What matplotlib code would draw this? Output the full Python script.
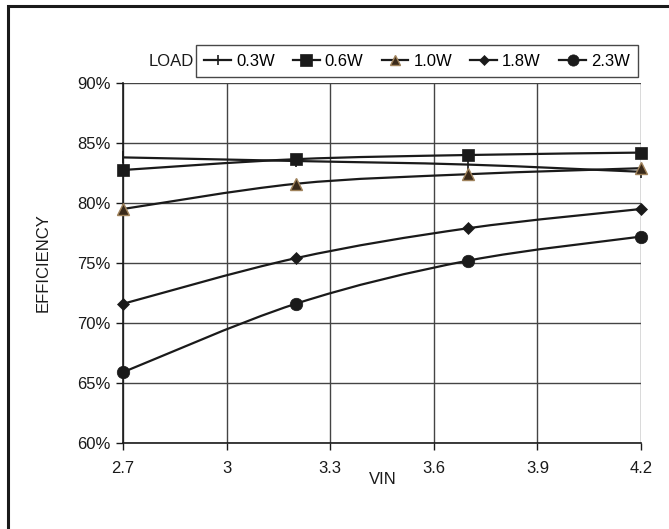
import matplotlib
matplotlib.use("Agg")
import matplotlib.pyplot as plt
import matplotlib.patches as patches
from matplotlib.path import Path
from matplotlib.lines import Line2D
import matplotlib.ticker as plticker

plt.rcParams['font.family'] = ['Liberation Sans', 'DejaVu Sans']

# data
vin = [2.7, 3.2, 3.7, 4.2]
load_labels = ['0.3W', '0.6W', '1.0W', '1.8W', '2.3W']
eff_03 = [83.8, 83.5, 83.2, 82.6]
eff_06 = [82.75, 83.65, 84.0, 84.2]
eff_10 = [79.5, 81.6, 82.4, 82.9]
eff_18 = [71.6, 75.4, 77.9, 79.5]
eff_23 = [65.9, 71.6, 75.2, 77.2]
x_ticks = [2.7, 3.0, 3.3, 3.6, 3.9, 4.2]
x_tick_labels = ['2.7', '3', '3.3', '3.6', '3.9', '4.2']
y_ticks = [60, 65, 70, 75, 80, 85, 90]

series = [eff_03, eff_06, eff_10, eff_18, eff_23]
styles = [
    dict(marker='|', ms=8, mfc='#1a1a1a', mec='#1a1a1a', mew=1.2),
    dict(marker='s', ms=9, mfc='#1a1a1a', mec='#1a1a1a', mew=0.5),
    dict(marker='^', ms=8, mfc='#3a2a1a', mec='#a0835c', mew=1.0),
    dict(marker='D', ms=6, mfc='#1a1a1a', mec='#1a1a1a', mew=0.5),
    dict(marker='o', ms=9, mfc='#1a1a1a', mec='#1a1a1a', mew=0.5),
]


def smooth_path(xs, ys):
    # excel-like smoothed line: catmull-rom turned into cubic bezier segments
    pts = list(zip(xs, ys))
    verts = [pts[0]]
    codes = [Path.MOVETO]
    n = len(pts)
    for i in range(n - 1):
        p0 = pts[i - 1] if i > 0 else pts[i]
        p1 = pts[i]
        p2 = pts[i + 1]
        p3 = pts[i + 2] if i + 2 < n else pts[i + 1]
        c1 = (p1[0] + (p2[0] - p0[0]) / 6, p1[1] + (p2[1] - p0[1]) / 6)
        c2 = (p2[0] - (p3[0] - p1[0]) / 6, p2[1] - (p3[1] - p1[1]) / 6)
        verts += [c1, c2, p2]
        codes += [Path.CURVE4] * 3
    return Path(verts, codes)


fig = plt.figure(figsize=(6.69, 5.29), dpi=100)
ax = fig.add_axes([123 / 669, 1 - 443 / 529, (641 - 123) / 669, (443 - 83) / 529])

# outer frame, only left and top edges show
fig.patches.append(patches.Rectangle((8 / 669, -0.01), 1.2, 1 - 6 / 529 + 0.01,
                                     transform=fig.transFigure, fill=False,
                                     ec='#1a1a1a', lw=2.2))

for ys, st in zip(series, styles):
    ax.add_patch(patches.PathPatch(smooth_path(vin, ys), fill=False,
                                   ec='#1a1a1a', lw=1.6, zorder=3))
    ax.plot(vin, ys, linestyle='none', zorder=4, clip_on=False, **st)

ax.set_xlim(2.7, 4.2)
ax.set_ylim(60, 90)
ax.set_xticks(x_ticks)
ax.set_xticklabels(x_tick_labels)
ax.set_yticks(y_ticks)
ax.yaxis.set_major_formatter(plticker.FuncFormatter(lambda v, p: '%d%%' % v))
ax.grid(True, color='#444444', lw=1.0)
ax.set_axisbelow(True)
for s in ['top', 'right']:
    ax.spines[s].set_visible(False)
for s in ['left', 'bottom']:
    ax.spines[s].set_color('#1a1a1a')
    ax.spines[s].set_linewidth(1.2)
ax.tick_params(axis='both', labelsize=12, colors='#1a1a1a', length=5, width=1)
ax.tick_params(axis='x', pad=8)
ax.tick_params(axis='y', pad=4)

ax.set_ylabel('EFFICIENCY', fontsize=12, color='#1a1a1a', labelpad=19)
fig.text(383 / 669, 1 - 479 / 529, 'VIN', fontsize=12, color='#1a1a1a',
         ha='center', va='center')

fig.text(171 / 669, 1 - 61 / 529, 'LOAD', fontsize=12, color='#1a1a1a',
         ha='center', va='center')
handles = [Line2D([], [], color='#1a1a1a', lw=1.6, **st) for st in styles]
leg = fig.legend(handles, load_labels, ncol=5, loc='center',
                 bbox_to_anchor=(417 / 669, 1 - 61 / 529), fontsize=12,
                 handlelength=1.6, handletextpad=0.3, columnspacing=1.1,
                 frameon=True, fancybox=False, borderpad=0.5,
                 edgecolor='#1a1a1a', markerscale=0.9)
leg.get_frame().set_linewidth(1.0)

fig.savefig('out.png', dpi=100)
